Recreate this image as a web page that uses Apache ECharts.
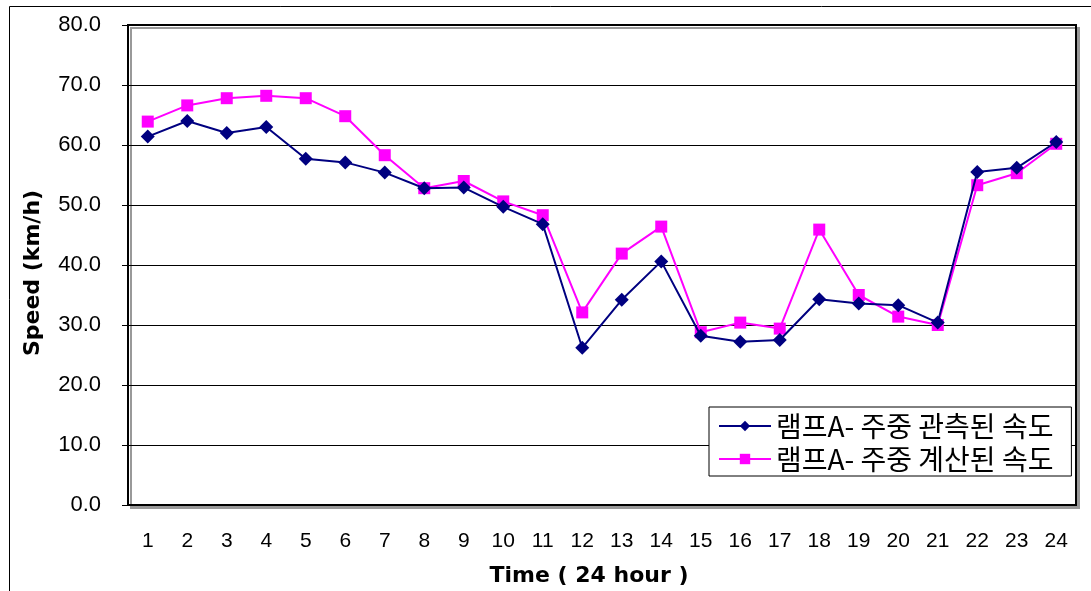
<!DOCTYPE html>
<html>
<head>
<meta charset="utf-8">
<script src="https://cdn.jsdelivr.net/npm/echarts@6/dist/echarts.min.js"></script>
<style>
html,body{margin:0;padding:0;background:#fff;}
#chart{width:1091px;height:591px;}
</style>
</head>
<body>
<div id="chart"></div>
<script>
var categories = ['1','2','3','4','5','6','7','8','9','10','11','12','13','14','15','16','17','18','19','20','21','22','23','24'];
var observed = [61.4,64.0,62.0,63.0,57.7,57.1,55.4,52.8,52.9,49.7,46.8,26.2,34.2,40.6,28.2,27.2,27.5,34.3,33.6,33.3,30.4,55.5,56.2,60.5];
var calculated = [63.9,66.6,67.8,68.2,67.8,64.8,58.3,52.8,54.0,50.6,48.3,32.1,41.9,46.4,28.8,30.4,29.4,45.9,35.0,31.4,30.0,53.3,55.3,60.2];
var seriesNames = ['램프A- 주중 관측된 속도','램프A- 주중 계산된 속도'];
var yTicks = {min:0, max:80, interval:10};

var chart = echarts.init(document.getElementById('chart'), null, {renderer:'canvas'});
chart.setOption({
  backgroundColor:'#fff',
  animation:false,
  graphic:[{
    type:'rect', left:7, top:4, shape:{x:0,y:0,width:1200,height:700},
    style:{fill:'none', stroke:'#000', lineWidth:1}, z:-10
  }],
  grid:{left:128, top:25, width:948, height:480, show:true, backgroundColor:'#fff',
        outerBoundsMode:'none', containLabel:false,
        borderColor:'#000', borderWidth:2, shadowColor:'#999', shadowOffsetX:3, shadowOffsetY:3, shadowBlur:0},
  legend:{
    left:709, top:407, orient:'vertical', backgroundColor:'#fff', borderColor:'#000', borderWidth:1,
    padding:[5,18,3,9], itemWidth:52, itemHeight:13, itemGap:5,
    textStyle:{fontFamily:'Noto Sans CJK KR', fontSize:28, color:'#000'},
    data:[{name:seriesNames[0]},{name:seriesNames[1]}]
  },
  xAxis:{
    type:'category', data:categories, boundaryGap:true,
    axisLine:{lineStyle:{color:'#000', width:2}},
    axisTick:{inside:true, length:6, lineStyle:{color:'#000'}},
    axisLabel:{margin:26, fontFamily:'Liberation Sans', fontSize:21, color:'#000'},
    name:'Time ( 24 hour )', nameLocation:'middle', nameGap:60,
    nameTextStyle:{fontFamily:'DejaVu Sans', fontWeight:'bold', fontSize:22, color:'#000', padding:[0,26,0,0]}
  },
  yAxis:{
    type:'value', min:yTicks.min, max:yTicks.max, interval:yTicks.interval,
    axisLine:{show:true, lineStyle:{color:'#000', width:2}},
    axisTick:{show:true, length:6, lineStyle:{color:'#000'}},
    splitLine:{lineStyle:{color:'#000', width:1}},
    axisLabel:{margin:27, fontFamily:'Liberation Sans', fontSize:22, color:'#000',
               formatter:function(v){return v.toFixed(1);}},
    name:'Speed (km/h)', nameLocation:'middle', nameGap:84, nameRotate:90,
    nameTextStyle:{fontFamily:'DejaVu Sans', fontWeight:'bold', fontSize:22, color:'#000', padding:[0,16,0,0]}
  },
  series:[
    {name:seriesNames[0], type:'line', data:observed, symbol:'diamond', symbolSize:14,
     lineStyle:{color:'#000080', width:2}, itemStyle:{color:'#000080'}, z:3},
    {name:seriesNames[1], type:'line', data:calculated, symbol:'rect', symbolSize:12,
     lineStyle:{color:'#FF00FF', width:2}, itemStyle:{color:'#FF00FF'}, z:2}
  ]
});
</script>
</body>
</html>
